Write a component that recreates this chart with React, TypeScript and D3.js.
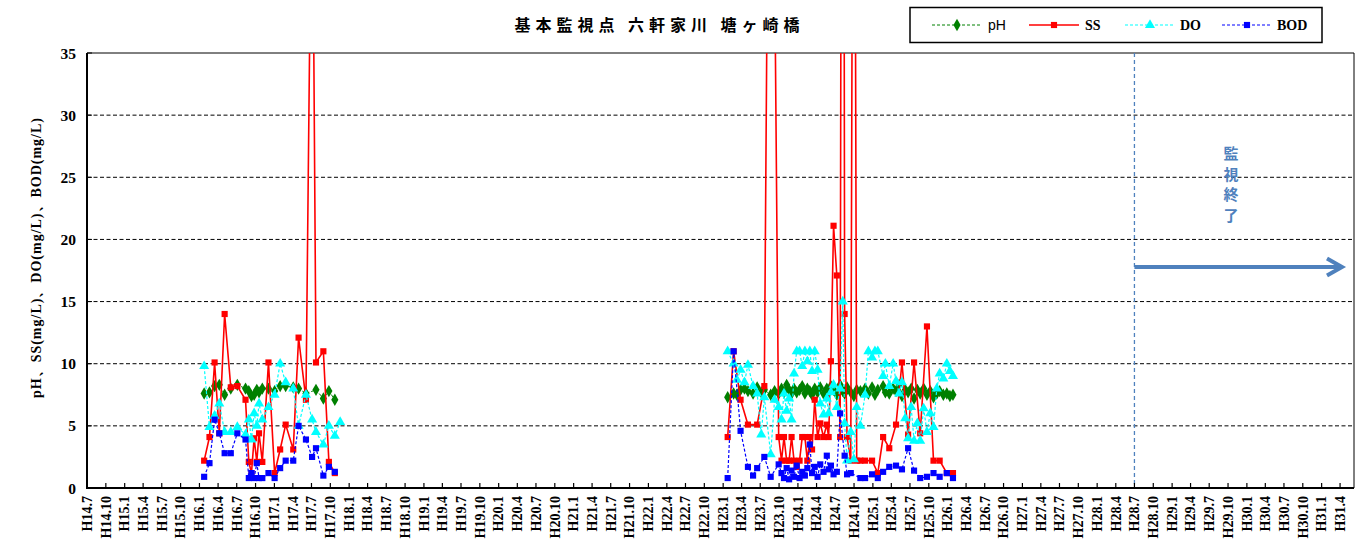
import React from 'react';
import * as d3 from 'd3';

const TITLE = '基本監視点 六軒家川 塘ヶ崎橋';
const Y_TITLE = 'pH、SS(mg/L)、DO(mg/L)、BOD(mg/L)';
const END_NOTE = ['監', '視', '終', '了'];
const SERIES_NAMES = ['pH', 'SS', 'DO', 'BOD'];
const Y_TICKS = [0, 5, 10, 15, 20, 25, 30, 35];
const AXIS_START = 'H14.7.1';
const AXIS_END = 'H31.6.8';
const LAST_TICK = 'H31.4.2';
const END_OF_MONITORING = 'H28.7.1';

// sampling dates (Heisei era: year.month.day)
const dates = [
  'H16.1.24', 'H16.2.19', 'H16.3.15', 'H16.4.7', 'H16.5.3', 'H16.6.2', 'H16.7.4', 'H16.8.13', 'H16.8.29',
  'H16.9.11', 'H16.9.24', 'H16.10.7', 'H16.10.18', 'H16.11.3', 'H16.12.3', 'H17.1.2', 'H17.1.29', 'H17.2.25',
  'H17.4.3', 'H17.4.29', 'H17.6.4', 'H17.7.4', 'H17.7.23', 'H17.8.28', 'H17.9.24', 'H17.10.23', 'H17.11.18',
  'H23.1.23', 'H23.2.21', 'H23.3.9', 'H23.3.27', 'H23.4.15', 'H23.5.2', 'H23.5.27', 'H23.6.16', 'H23.7.6',
  'H23.7.21', 'H23.8.21', 'H23.9.9', 'H23.9.29', 'H23.10.13', 'H23.10.25', 'H23.11.7', 'H23.11.19', 'H23.12.1',
  'H23.12.13', 'H23.12.26', 'H24.1.9', 'H24.1.22', 'H24.2.4', 'H24.2.16', 'H24.2.28', 'H24.3.10', 'H24.3.23',
  'H24.4.6', 'H24.4.19', 'H24.5.5', 'H24.5.21', 'H24.5.30', 'H24.6.10', 'H24.6.23', 'H24.7.9', 'H24.7.25',
  'H24.8.7', 'H24.8.16', 'H24.8.28', 'H24.9.15', 'H24.9.30', 'H24.10.14', 'H24.11.1', 'H24.11.24', 'H24.12.10',
  'H24.12.28', 'H25.1.11', 'H25.1.25', 'H25.2.20', 'H25.3.3', 'H25.3.22', 'H25.4.10', 'H25.4.24', 'H25.5.9',
  'H25.5.23', 'H25.6.8', 'H25.6.22', 'H25.7.7', 'H25.7.21', 'H25.8.6', 'H25.8.20', 'H25.9.6', 'H25.9.22',
  'H25.10.8', 'H25.10.24', 'H25.11.9', 'H25.11.23', 'H25.12.11', 'H25.12.28', 'H26.1.12', 'H26.1.27',
];

const ph = [
  7.6, 7.7, 8.2, 8.3, 7.5, 8.0, 8.3, 8.0, 7.8, 7.4, 7.5, 7.9, 7.7, 8.0, 8.0, 7.8, 8.2, 8.2, 8.1, 8.0, 7.6, null, 7.9, 7.2, 7.8, 7.1, null,
  7.3, 7.6, 7.5, 7.9, 8.0, 7.8, 7.6, 8.1, 7.7, 7.9, 7.5, 7.8, 7.6, 8.0, 7.7, 8.3, 7.9, 7.6, 8.0, 7.7, 7.9, 8.2, 7.6, 8.0,
  7.8, 7.5, 8.0, 7.7, 8.1, 7.6, 8.0, 7.7, 8.2, 7.9, 7.5, 8.3, 7.8, 7.6, 8.1, 7.7, 7.4, 7.9, 7.8, 8.0, 7.6, 8.1, 7.5, 7.9,
  8.2, 7.7, 7.6, 8.0, 7.8, 8.3, 7.4, 7.9, 7.7, 8.0, 7.2, 7.9, 7.6, 8.0, 7.5, 7.8, 7.3, 7.6, 7.8, 7.5, 7.6, 7.4, 7.5,
];

const ss = [
  2.2, 4.1, 10.1, 4.4, 14.0, 8.1, 8.2, 7.1, 2.1, 1.2, 4.0, 2.1, 4.4, 2.1, 10.1, 1.2, 3.1, 5.1, 3.1, 12.1, 7.1, 55, 10.1, 11.0, 2.1, 1.2, null,
  4.1, 11.0, null, 7.1, null, 5.1, null, 5.1, null, 8.2, 80, null, 4.1, 2.2, 4.1, 2.2, 2.2, 4.1, 2.2, 1.7, 2.2, 4.1, 4.1, 2.2,
  4.1, 3.1, 7.1, 4.1, 5.2, 4.1, 5.1, 4.1, 10.2, 21.1, 17.1, 4.1, 120, 14.0, 4.1, 2.2, 85, 2.2, 2.2, 2.2, null, 2.2, null, 1.2,
  4.1, null, 3.2, null, 5.1, null, 10.1, null, 4.3, null, 10.1, null, 4.4, null, 13.0, null, 2.2, null, 2.2, null, 1.2, null, 1.2,
];

const dox = [
  9.8, 4.9, 5.8, 6.8, 4.5, 4.5, 4.9, 4.3, 5.5, 3.9, 6.0, 5.0, 6.8, 5.5, 6.5, 7.5, 10.0, 8.5, 8.0, 5.0, 7.5, 5.5, 4.5, 3.5, 5.0, 4.2, 5.3,
  11.0, 10.0, 8.7, 9.5, 8.5, 9.9, 8.2, 7.6, 4.3, 7.3, 2.7, 7.1, 6.5, 5.5, 7.6, 6.2, 7.2, 5.5, 9.2, 11.0, 11.0, 9.8, 11.0, 10.2,
  11.0, 9.4, 11.0, 9.5, 6.8, 5.9, 7.2, 6.0, 7.7, 8.3, 6.5, 8.0, 15.0, 5.2, 2.2, 4.5, 2.3, 6.5, 5.0, 7.5, 11.0, 10.5, 11.0, 11.0,
  9.0, 10.0, 8.2, 10.0, 8.6, 7.6, 8.5, 5.6, 4.0, 6.5, 3.8, 5.2, 3.8, 6.4, 4.5, 6.0, 4.9, 8.0, 9.2, 8.8, 10.0, 9.4, 9.0,
];

const bod = [
  0.9, 2.0, 5.5, 4.4, 2.8, 2.8, 4.4, 3.9, 0.8, 1.2, 0.8, 2.0, 0.8, 0.8, 1.2, 0.8, 1.6, 2.2, 2.2, 5.0, 3.9, 2.5, 3.2, 1.0, 1.7, 1.3, null,
  0.8, 11.0, null, 4.6, null, 1.7, 1.0, 1.6, null, 2.5, 0.9, null, 1.9, 1.2, 0.8, 1.6, 0.7, 1.4, 0.9, 1.8, 0.8, 1.3, 1.0, 1.6,
  3.5, 1.2, 1.7, 0.9, 1.9, 1.3, 2.6, 1.5, 1.8, 1.1, 1.3, 6.0, null, 2.6, 1.1, 1.2, null, null, 0.8, 0.8, null, 1.1, null, 0.8,
  1.3, null, 1.7, null, 1.8, null, 1.5, null, 3.2, null, 1.4, null, 0.8, null, 0.9, null, 1.2, null, 0.9, null, 1.2, null, 0.8,
];

const W = 1355;
const H = 540;
const L = 87;
const R = 1354;
const T = 53;
const B = 488;
const ACCENT = '#4f81bd';
const GAP_DAYS = 365;

const parseH = (s: string) => {
  const [yy, mm, dd] = s.slice(1).split('.').map(Number);
  return new Date(1988 + yy, mm - 1, dd);
};
const fmtH = (d: Date) => `H${d.getFullYear() - 1988}.${d.getMonth() + 1}`;

const x = d3.scaleTime().domain([parseH(AXIS_START), parseH(AXIS_END)]).range([L, R]);
const y = d3.scaleLinear().domain([0, 35]).range([B, T]);
const quarterTicks = d3.timeMonth.range(parseH(AXIS_START), parseH(LAST_TICK), 3);

type Style = {
  name: string;
  values: (number | null)[];
  color: string;
  width: number;
  dash?: string;
  symbol: d3.SymbolType;
  size: number;
};

const series: Style[] = [
  { name: SERIES_NAMES[0], values: ph, color: '#008000', width: 1, dash: '3,2', symbol: d3.symbolDiamond, size: 44 },
  { name: SERIES_NAMES[1], values: ss, color: '#ff0000', width: 1.6, symbol: d3.symbolSquare, size: 38 },
  { name: SERIES_NAMES[2], values: dox, color: '#00ffff', width: 1.2, dash: '3,2', symbol: d3.symbolTriangle, size: 44 },
  { name: SERIES_NAMES[3], values: bod, color: '#0000ff', width: 1.2, dash: '3,2', symbol: d3.symbolSquare, size: 38 },
];

const lineGen = d3
  .line<[Date, number]>()
  .x((d) => x(d[0]))
  .y((d) => y(d[1]));

const serif = '"Liberation Serif", "Times New Roman", serif';
const cjk = '"Noto Sans CJK JP", "Noto Sans CJK SC", sans-serif';

// split points into runs separated by long gaps (no sampling period)
function splitRuns(p: [Date, number][]) {
  const runs: [Date, number][][] = [];
  let cur: [Date, number][] = [];
  p.forEach((d, i) => {
    if (i > 0 && d3.timeDay.count(p[i - 1][0], d[0]) > GAP_DAYS) {
      runs.push(cur);
      cur = [];
    }
    cur.push(d);
  });
  if (cur.length) runs.push(cur);
  return runs;
}

export default function App() {
  const pts = series.map((s) =>
    dates
      .map((dt, i) => [parseH(dt), s.values[i]] as [Date, number | null])
      .filter((p) => p[1] !== null) as [Date, number][]
  );
  const legendItems = [
    { x1: 932, label: 988, font: '"Liberation Sans", Arial, sans-serif', weight: 'normal' },
    { x1: 1029, label: 1085, font: serif, weight: 'bold' },
    { x1: 1125, label: 1180, font: serif, weight: 'bold' },
    { x1: 1222, label: 1277, font: serif, weight: 'bold' },
  ];
  const endX = x(parseH(END_OF_MONITORING));

  return (
    <svg width={W} height={H} style={{ position: 'absolute', left: 0, top: 0, background: '#fff' }}>
      <defs>
        <clipPath id="plot">
          <rect x={L} y={T} width={R - L} height={B - T + 6} />
        </clipPath>
      </defs>
      <rect x={0} y={0} width={W} height={H} fill="#fff" />

      {/* title */}
      <text x={657} y={31} textAnchor="middle" fontFamily={cjk} fontWeight="bold" fontSize={16} textLength={285} lengthAdjust="spacing">
        {TITLE}
      </text>

      {/* gridlines */}
      {Y_TICKS.filter((v) => v > 0 && v < 35).map((v) => (
        <line key={v} x1={L} x2={R} y1={y(v)} y2={y(v)} stroke="#000" strokeWidth={1} strokeDasharray="4,2.5" />
      ))}
      {/* frame */}
      <line x1={L} x2={R} y1={T} y2={T} stroke="#000" strokeWidth={1} />
      <line x1={R} x2={R} y1={T} y2={B} stroke="#000" strokeWidth={1} />

      {/* end of monitoring marker */}
      <line x1={endX} x2={endX} y1={T} y2={B} stroke={ACCENT} strokeWidth={1.3} strokeDasharray="4,3" />
      <line x1={endX} x2={1341} y1={267} y2={267} stroke={ACCENT} strokeWidth={4} />
      <polyline points="1327,258.5 1342,267 1327,275.5" fill="none" stroke={ACCENT} strokeWidth={4} strokeLinejoin="miter" />
      {END_NOTE.map((c, i) => (
        <text key={c} x={1231} y={159 + i * 20.7} textAnchor="middle" fontFamily={cjk} fontWeight="bold" fontSize={15} fill={ACCENT}>
          {c}
        </text>
      ))}

      {/* series */}
      <g clipPath="url(#plot)">
        {series.map((s, si) => (
          <g key={s.name}>
            {splitRuns(pts[si]).map((run, ri) => (
              <path key={ri} d={lineGen(run) || ''} fill="none" stroke={s.color} strokeWidth={s.width} strokeDasharray={s.dash} />
            ))}
            {pts[si].map((p, i) => (
              <path
                key={i}
                transform={`translate(${x(p[0])},${y(p[1])})`}
                d={d3.symbol().type(s.symbol).size(s.size)() || ''}
                fill={s.color}
              />
            ))}
          </g>
        ))}
      </g>

      {/* axes */}
      <line x1={L} x2={L} y1={T} y2={B + 1} stroke="#000" strokeWidth={2} />
      <line x1={L - 1} x2={R} y1={B} y2={B} stroke="#000" strokeWidth={2} />
      {Y_TICKS.map((v) => (
        <g key={v}>
          <line x1={L} x2={L + 5} y1={y(v)} y2={y(v)} stroke="#000" strokeWidth={1} />
          <text x={76} y={y(v) + 5.5} textAnchor="end" fontFamily={serif} fontWeight="bold" fontSize={15.5}>
            {v}
          </text>
        </g>
      ))}
      {quarterTicks.map((d) => (
        <g key={+d}>
          <line x1={x(d)} x2={x(d)} y1={B} y2={B - 5} stroke="#000" strokeWidth={1.2} />
          <text
            transform={`translate(${x(d) + 4.8},${496}) rotate(-90)`}
            textAnchor="end"
            fontFamily={serif}
            fontWeight="bold"
            fontSize={14}
          >
            {fmtH(d)}
          </text>
        </g>
      ))}

      {/* y axis title */}
      <text
        transform={`translate(${41},${258}) rotate(-90)`}
        textAnchor="middle"
        fontFamily={serif}
        fontWeight="bold"
        fontSize={14}
        textLength={280}
        lengthAdjust="spacing"
      >
        {Y_TITLE}
      </text>

      {/* legend */}
      <rect x={910} y={7.5} width={412} height={35} fill="#fff" stroke="#000" strokeWidth={1.5} />
      {series.map((s, i) => {
        const it = legendItems[i];
        return (
          <g key={s.name}>
            <line x1={it.x1} x2={it.x1 + 50} y1={25} y2={25} stroke={s.color} strokeWidth={s.width} strokeDasharray={s.dash} />
            <path transform={`translate(${it.x1 + 25},25)`} d={d3.symbol().type(s.symbol).size(s.size)() || ''} fill={s.color} />
            <text x={it.label} y={30} fontFamily={it.font} fontWeight={it.weight} fontSize={14}>
              {s.name}
            </text>
          </g>
        );
      })}
    </svg>
  );
}
